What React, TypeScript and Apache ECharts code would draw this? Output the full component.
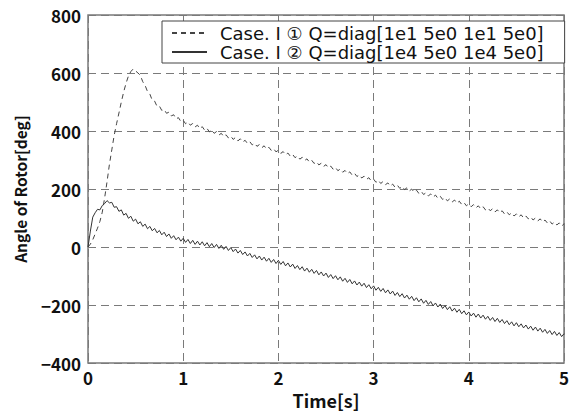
import React, { useEffect, useRef } from "react";
import * as echarts from "echarts";

// Sampling interval of the recorded signals [s]
const SAMPLE_STEP = 0.025;

const X_TICKS = [0, 1, 2, 3, 4, 5];
const Y_TICKS = [-400, -200, 0, 200, 400, 600, 800];

const SERIES_NAMES = [
  "Case. Ⅰ ① Q=diag[1e1 5e0 1e1 5e0]",
  "Case. Ⅰ ② Q=diag[1e4 5e0 1e4 5e0]",
];

// Case I (1): Q=diag[1e1 5e0 1e1 5e0]
const case1Angle = [
  0, 10, 25, 45, 65, 88, 120, 170, 225, 285,
  335, 385, 425, 462, 500, 535, 565, 590, 605, 614,
  607, 600, 592, 570, 557, 536, 527, 506, 503, 485,
  486, 471, 474, 461, 465, 452, 456, 442, 446, 433,
  437, 425, 431, 420, 426, 414, 420, 408, 415, 403,
  409, 397, 403, 392, 398, 386, 392, 381, 387, 376,
  382, 371, 378, 366, 373, 362, 368, 357, 363, 352,
  358, 347, 353, 342, 349, 338, 344, 333, 339, 328,
  334, 323, 329, 318, 324, 313, 319, 308, 314, 303,
  309, 298, 304, 293, 299, 288, 294, 283, 289, 278,
  284, 273, 279, 268, 274, 263, 269, 258, 264, 253,
  259, 248, 254, 243, 249, 238, 244, 233, 239, 228,
  234, 223, 230, 219, 226, 215, 221, 210, 217, 206,
  213, 202, 209, 198, 204, 193, 200, 189, 196, 185,
  192, 181, 187, 176, 183, 172, 179, 168, 175, 164,
  170, 159, 166, 155, 162, 151, 158, 147, 153, 142,
  149, 139, 146, 135, 142, 132, 139, 128, 135, 125,
  132, 121, 128, 118, 125, 114, 121, 111, 118, 107,
  114, 104, 111, 100, 107, 97, 104, 93, 100, 90,
  97, 86, 93, 83, 90, 79, 86, 76, 83, 72,
  80,
];

// Case I (2): Q=diag[1e4 5e0 1e4 5e0]
const case2Angle = [
  0, 55, 103, 118, 130, 128, 143, 150, 160, 152,
  154, 137, 139, 123, 128, 110, 116, 99, 106, 89,
  96, 80, 87, 71, 79, 63, 71, 56, 64, 49,
  57, 42, 51, 36, 45, 30, 39, 25, 34, 20,
  30, 16, 26, 12, 23, 9, 20, 7, 18, 4,
  15, 1, 12, -2, 9, -5, 6, -8, 2, -12,
  -2, -16, -7, -21, -12, -26, -17, -31, -22, -36,
  -27, -41, -31, -45, -35, -49, -39, -53, -43, -57,
  -46, -60, -50, -65, -55, -69, -59, -74, -64, -78,
  -68, -83, -73, -87, -77, -91, -81, -96, -86, -100,
  -90, -105, -95, -109, -99, -113, -103, -118, -108, -122,
  -112, -127, -117, -131, -121, -135, -125, -140, -130, -144,
  -134, -149, -139, -153, -143, -158, -148, -162, -152, -167,
  -157, -171, -161, -176, -166, -180, -170, -185, -175, -189,
  -179, -194, -184, -198, -188, -203, -193, -207, -197, -212,
  -202, -216, -206, -221, -211, -225, -215, -230, -220, -234,
  -224, -238, -228, -242, -231, -245, -235, -249, -239, -253,
  -243, -257, -246, -260, -250, -264, -254, -268, -258, -272,
  -261, -275, -265, -279, -269, -283, -273, -287, -276, -290,
  -280, -294, -284, -298, -288, -302, -291, -305, -295, -309,
  -299,
];

const toPairs = (vals: number[]) =>
  vals.map((v, i) => [Number((i * SAMPLE_STEP).toFixed(4)), v]);

const FONT = "'Noto Sans CJK JP', 'Noto Sans', sans-serif";
const LEGEND_FONT = "'DejaVu Sans', 'Noto Sans CJK JP', sans-serif";

export default function App() {
  const ref = useRef<HTMLDivElement>(null);

  useEffect(() => {
    if (!ref.current) return;
    const chart = echarts.init(ref.current, undefined, { renderer: "svg" });
    const yInterval = Y_TICKS[1] - Y_TICKS[0];
    const xInterval = X_TICKS[1] - X_TICKS[0];
    chart.setOption({
      animation: false,
      backgroundColor: "#ffffff",
      textStyle: { fontFamily: FONT },
      grid: {
        left: 88,
        right: 10,
        top: 15,
        bottom: 48,
        show: true,
        borderColor: "#7a7a7a",
        borderWidth: 1.5,
        backgroundColor: "transparent",
      },
      legend: {
        orient: "vertical",
        left: 162,
        top: 21,
        data: SERIES_NAMES,
        itemWidth: 35,
        itemHeight: 12,
        itemGap: 1,
        padding: [3, 21, 2, 9],
        borderColor: "#444",
        borderWidth: 1,
        borderRadius: 0,
        backgroundColor: "#ffffff",
        itemStyle: { opacity: 0 },
        textStyle: {
          fontFamily: LEGEND_FONT,
          fontSize: 18,
          lineHeight: 18,
          color: "#111",
          padding: [0, 0, 0, 8],
        },
      },
      xAxis: {
        type: "value",
        min: X_TICKS[0],
        max: X_TICKS[X_TICKS.length - 1],
        interval: xInterval,
        name: "Time[s]",
        nameLocation: "middle",
        nameGap: 28,
        nameTextStyle: {
          fontFamily: FONT,
          fontSize: 18,
          fontWeight: "bold",
          color: "#111",
        },
        axisLine: { show: false },
        axisTick: { show: false },
        axisLabel: {
          margin: 6,
          fontFamily: FONT,
          fontSize: 17,
          fontWeight: "bold",
          color: "#111",
        },
        splitLine: {
          show: true,
          lineStyle: { color: "#7a7a7a", type: [8, 5], width: 1 },
        },
      },
      yAxis: {
        type: "value",
        min: Y_TICKS[0],
        max: Y_TICKS[Y_TICKS.length - 1],
        interval: yInterval,
        name: "Angle of Rotor[deg]",
        nameLocation: "middle",
        nameGap: 60,
        nameTextStyle: {
          fontFamily: FONT,
          fontSize: 15.5,
          fontWeight: "bold",
          color: "#111",
        },
        axisLine: { show: false },
        axisTick: { show: false },
        axisLabel: {
          margin: 7,
          fontFamily: FONT,
          fontSize: 17,
          fontWeight: "bold",
          color: "#111",
          formatter: (v: number) => (v < 0 ? "\u2212" + Math.abs(v) : String(v)),
        },
        splitLine: {
          show: true,
          lineStyle: { color: "#7a7a7a", type: [8, 5], width: 1 },
        },
      },
      series: [
        {
          name: SERIES_NAMES[0],
          type: "line",
          data: toPairs(case1Angle),
          symbol: "none",
          lineStyle: { color: "#444", width: 1, type: [5, 4] },
          itemStyle: { color: "#444" },
          z: 3,
        },
        {
          name: SERIES_NAMES[1],
          type: "line",
          data: toPairs(case2Angle),
          symbol: "none",
          lineStyle: { color: "#333", width: 1, type: "solid" },
          itemStyle: { color: "#333" },
          z: 3,
        },
      ],
    });
    return () => chart.dispose();
  }, []);

  return (
    <div
      ref={ref}
      style={{ width: 574, height: 414, position: "absolute", left: 0, top: 0 }}
    />
  );
}
